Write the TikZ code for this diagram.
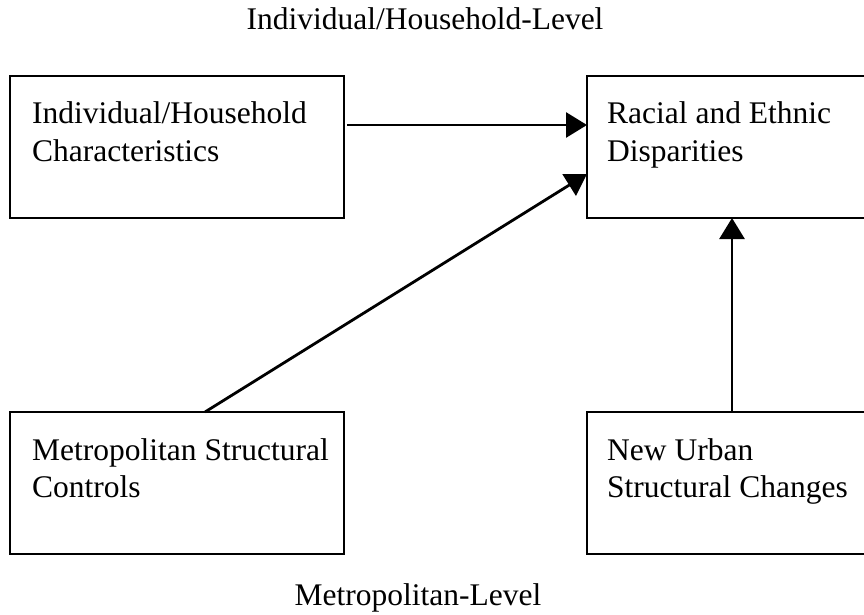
\documentclass[tikz,border=0pt]{standalone}
\usepackage{fontspec}
\setmainfont{Liberation Serif}
\usetikzlibrary{arrows.meta}
\tikzset{
  box/.style={draw=black, line width=2.8pt, minimum height=142pt, inner sep=0pt, outer sep=0pt},
  lbl/.style={anchor=base west, inner sep=0pt, font=\fontsize{31.5}{37}\selectfont},
  heading/.style={anchor=base, inner sep=0pt, font=\fontsize{31.5}{37}\selectfont},
  conn/.style={line width=2.8pt, -{Triangle[length=21pt, width=25pt]}}
}
\begin{document}
\begin{tikzpicture}[x=1pt,y=1pt]
\useasboundingbox (0,0) rectangle (864,-615);
\fill[white] (0,0) rectangle (864,-615);
% boxes
\node[box, minimum width=334pt] (b1) at (177,-147) {};
\node[box, minimum width=279pt] (b2) at (726.5,-147) {};
\node[box, minimum width=334pt] (b3) at (177,-483) {};
\node[box, minimum width=279pt] (b4) at (726.5,-483) {};
% texts
\node[lbl] (t1a) at (32,-124) {Individual/Household};
\node[lbl] (t1b) at (32,-161) {Characteristics};
\node[lbl] (t2a) at (607,-124) {Racial and Ethnic};
\node[lbl] (t2b) at (607,-161) {Disparities};
\node[lbl] (t3a) at (32,-460) {Metropolitan Structural};
\node[lbl] (t3b) at (32,-497) {Controls};
\node[lbl] (t4a) at (607,-460) {New Urban};
\node[lbl] (t4b) at (607,-497) {Structural Changes};
\node[heading] (top) at (425,-30) {Individual/Household-Level};
\node[heading] (bottom) at (418,-605) {Metropolitan-Level};
% connectors
\draw[conn] ([xshift=3pt,yshift=22pt]b1.east) -- ([yshift=22pt]b2.west);
\draw[conn] ([xshift=28pt]b3.north) -- ([yshift=-27pt]b2.west);
\draw[conn] ([xshift=5.5pt]b4.north) -- ([xshift=5.5pt]b2.south);
\end{tikzpicture}
\end{document}
